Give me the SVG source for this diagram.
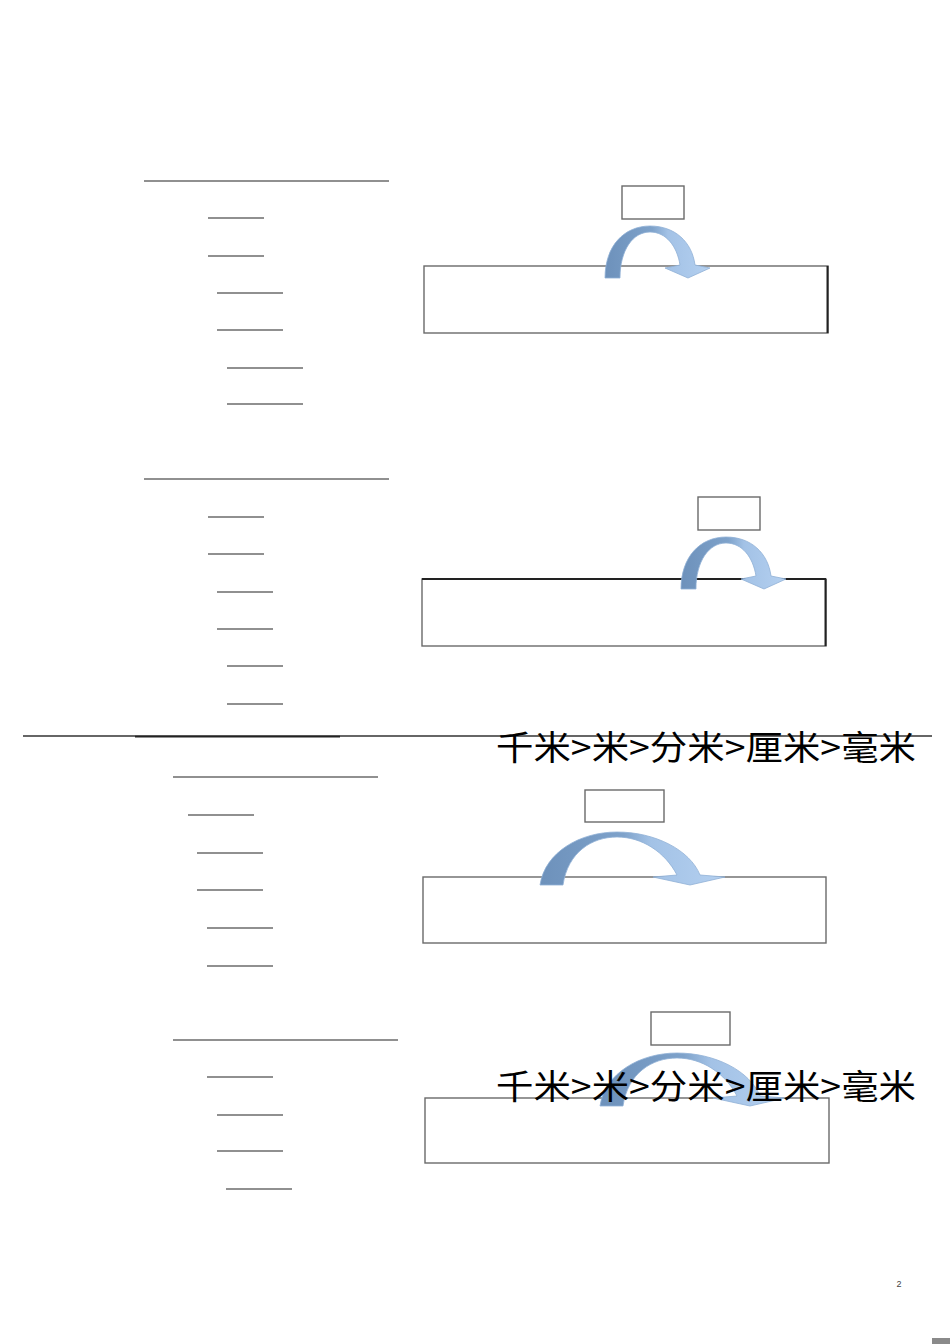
<svg xmlns="http://www.w3.org/2000/svg" width="950" height="1344" viewBox="0 0 950 1344">
<defs>
<style>
.ln{stroke:#6b6b6b;stroke-width:1.6;fill:none}
.bx{fill:#ffffff;stroke:#6a6a6a;stroke-width:1.4}
.ed{stroke:#222;stroke-width:2;fill:none}
.arr{fill:url(#ag);stroke:#8fb0d6;stroke-width:0.8}
.t{font-family:"Noto Sans CJK SC","Noto Sans",sans-serif;font-size:34px;fill:#000}
</style>
<linearGradient id="ag" x1="0" y1="0" x2="1" y2="0">
<stop offset="0" stop-color="#6d91bb"/>
<stop offset="0.45" stop-color="#7ea2ca"/>
<stop offset="0.6" stop-color="#a3c2e6"/>
<stop offset="1" stop-color="#b4d0f0"/>
</linearGradient>
<path id="a1" d="M605 278 C605 246 624 226 650 226 C675 226 692 242 695 265 L710 268 L688 278 L665 268 L680 265 C677 246 666 232 650 232 C633 232 620 250 620 278 Z"/>
<path id="a3" d="M540 885 C545 852 580 832 617 832 C655 832 690 850 700 875 L725 877 L690 885 L653 877 L677 875 C665 852 642 837 617 837 C592 837 568 852 563 885 Z"/>
</defs>
<rect width="950" height="1344" fill="#ffffff"/>

<g id="section1">
<line class="ln" x1="144" y1="181" x2="389" y2="181"/>
<line class="ln" x1="208" y1="218" x2="264" y2="218"/>
<line class="ln" x1="208" y1="256" x2="264" y2="256"/>
<line class="ln" x1="217" y1="293" x2="283" y2="293"/>
<line class="ln" x1="217" y1="330" x2="283" y2="330"/>
<line class="ln" x1="227" y1="368" x2="303" y2="368"/>
<line class="ln" x1="227" y1="404" x2="303" y2="404"/>
<rect class="bx" x="622" y="186" width="62" height="33"/>
<rect class="bx" x="424" y="266" width="404" height="67"/>
<line class="ed" x1="827.5" y1="266" x2="827.5" y2="333"/>
</g>

<g id="section2">
<line class="ln" x1="144" y1="479" x2="389" y2="479"/>
<line class="ln" x1="208" y1="517" x2="264" y2="517"/>
<line class="ln" x1="208" y1="554" x2="264" y2="554"/>
<line class="ln" x1="217" y1="592" x2="273" y2="592"/>
<line class="ln" x1="217" y1="629" x2="273" y2="629"/>
<line class="ln" x1="227" y1="666" x2="283" y2="666"/>
<line class="ln" x1="227" y1="704" x2="283" y2="704"/>
<rect class="bx" x="698" y="497" width="62" height="33"/>
<rect class="bx" x="422" y="579" width="404" height="67"/>
<line class="ed" x1="422" y1="579" x2="826" y2="579" stroke-width="2.6"/>
<line class="ed" x1="825.5" y1="579" x2="825.5" y2="646"/>
</g>

<g id="divider">
<line x1="23" y1="736" x2="932" y2="736" stroke="#333" stroke-width="1.4"/>
<line x1="135" y1="736.6" x2="340" y2="736.6" stroke="#222" stroke-width="1.6"/>
</g>

<g id="section3">
<line class="ln" x1="173" y1="777" x2="378" y2="777"/>
<line class="ln" x1="188" y1="815" x2="254" y2="815"/>
<line class="ln" x1="197" y1="853" x2="263" y2="853"/>
<line class="ln" x1="197" y1="890" x2="263" y2="890"/>
<line class="ln" x1="207" y1="928" x2="273" y2="928"/>
<line class="ln" x1="207" y1="966" x2="273" y2="966"/>
<rect class="bx" x="585" y="790" width="79" height="32"/>
<rect class="bx" x="423" y="877" width="403" height="66"/>
</g>

<g id="section4">
<line class="ln" x1="173" y1="1040" x2="398" y2="1040"/>
<line class="ln" x1="207" y1="1077" x2="273" y2="1077"/>
<line class="ln" x1="217" y1="1115" x2="283" y2="1115"/>
<line class="ln" x1="217" y1="1151" x2="283" y2="1151"/>
<line class="ln" x1="226" y1="1189" x2="292" y2="1189"/>
<rect class="bx" x="651" y="1012" width="79" height="33"/>
<rect class="bx" x="425" y="1098" width="404" height="65"/>
</g>

<g id="connectors">
<use href="#a1" class="arr"/>
<use href="#a1" class="arr" transform="translate(76 311)"/>
<use href="#a3" class="arr"/>
<use href="#a3" class="arr" transform="translate(60 221)"/>
</g>

<g id="labels">
<text class="t" x="496" y="760" textLength="420" lengthAdjust="spacingAndGlyphs">千米&gt;米&gt;分米&gt;厘米&gt;毫米</text>
<text class="t" x="496" y="1099" textLength="420" lengthAdjust="spacingAndGlyphs">千米&gt;米&gt;分米&gt;厘米&gt;毫米</text>
<text x="899" y="1287" font-family="Liberation Sans, sans-serif" font-size="9" fill="#444" text-anchor="middle">2</text>
</g>

<rect x="932" y="1338" width="18" height="6" fill="#8a8a8a"/>
</svg>
